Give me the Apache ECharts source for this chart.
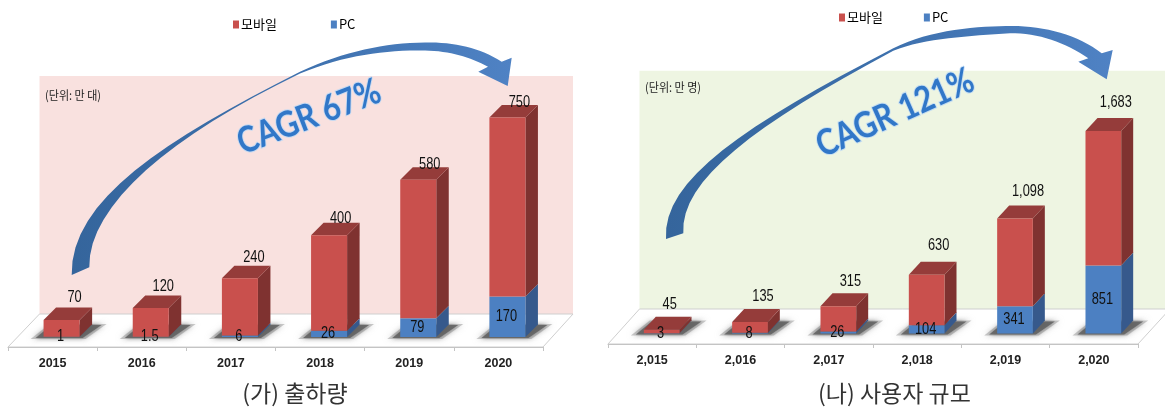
<!DOCTYPE html>
<html><head><meta charset="utf-8">
<style>html,body{margin:0;padding:0;background:#fff}#c{width:1165px;height:407px}</style>
<script src="https://cdn.jsdelivr.net/npm/echarts@6/dist/echarts.min.js"></script>
</head><body><div id="c"></div>
<script>
// ---------- data ----------
const catsA = ['2015','2016','2017','2018','2019','2020'];
const mobileA = [70,120,240,400,580,750];
const pcA = [1,1.5,6,26,79,170];
const catsB = ['2,015','2,016','2,017','2,018','2,019','2,020'];
const mobileB = [45,135,315,630,1098,1683];
const pcB = [3,8,26,104,341,851];
const seriesNames = ['모바일','PC'];
const titleA = '(가) 출하량', titleB = '(나) 사용자 규모';
const unitA = '(단위: 만 대)', unitB = '(단위: 만 명)';
const cagrA = 'CAGR 67%', cagrB = 'CAGR 121%';

// ---------- style ----------
const LAT = '"Liberation Sans",sans-serif';
const KR = '"Noto Sans CJK KR",sans-serif';
const RED = {front:'#C9504D', side:'#7F3230', top:'#953C3A'};
const BLUE = {front:'#4C80C2', side:'#36598C', top:'#4C80C2'};
const chartA = {dx:9,  dy:10,   depthX:12.5, depthY:12.5, labelDx:[13,12.5,14,11.5,11.5,12], labelDy:[-22,-21,-21,-17,-15,-14.5]};
const chartB = {dx:9.5,dy:10.5, depthX:12,   depthY:13,   labelDx:[8,13,12,12,13,12.5],      labelDy:[-25,-25.5,-25,-29,-27,-28]};

const fmt = v => String(v).replace(/\B(?=(\d{3})+(?!\d))/g, ',');

function makeRender(cfg, colors, isBase, isTop){
  return function(params, api){
    const i = api.value(0), lo = api.value(1), hi = api.value(2), val = api.value(3);
    const a = api.coord([i, lo]), b = api.coord([i, hi]);
    const w = api.size([1,0])[0]*0.404;
    const x0 = a[0]+cfg.dx-w/2, x1 = x0+w, yB = a[1]-cfg.dy, yT = b[1]-cfg.dy;
    const dX = cfg.depthX, dY = cfg.depthY;
    const ch = [];
    if (isBase) {
      ch.push({type:'polygon', z2:1,
        shape:{points:[[x0-13,yB+2],[x1+6,yB+2],[x1+27,yB-13],[x0+6,yB-13]]},
        style:{fill:'rgba(150,150,150,0.5)', shadowBlur:6, shadowColor:'rgba(150,150,150,0.7)'}});
      ch.push({type:'polygon', z2:2,
        shape:{points:[[x0-8,yB+1],[x1+3,yB+1],[x1+22,yB-12],[x0+8,yB-12]]},
        style:{fill:'rgba(95,95,95,0.85)', shadowBlur:4, shadowColor:'rgba(95,95,95,0.8)'}});
    }
    ch.push({type:'polygon', z2:isBase?3:5, shape:{points:[[x1,yB],[x1+dX,yB-dY],[x1+dX,yT-dY],[x1,yT]]}, style:{fill:colors.side}});
    if (isTop) ch.push({type:'polygon', z2:5, shape:{points:[[x0,yT],[x1,yT],[x1+dX,yT-dY],[x0+dX,yT-dY]]}, style:{fill:colors.top}});
    ch.push({type:'rect', z2:isBase?3:5, shape:{x:x0,y:yT,width:w,height:yB-yT}, style:{fill:colors.front}});
    const lab = isTop
      ? {x:a[0]+cfg.dx+cfg.labelDx[i], y:b[1]-cfg.dy+cfg.labelDy[i]}
      : {x:a[0]+cfg.dx-1, y:(yB+yT)/2};
    ch.push({type:'text', z2:100, x:lab.x, y:lab.y, scaleX:0.8,
      style:{text:fmt(val), fill:'#111', font:'16px '+LAT, align:'center', verticalAlign:'middle'}});
    return {type:'group', children:ch};
  };
}
const rows = (lo, hi) => hi.map((v,i)=>[i, lo?lo[i]:0, (lo?lo[i]:0)+v, v]);

function seriesFor(idx, cfg, mobile, pc){
  return [
    {name:seriesNames[1], type:'custom', xAxisIndex:idx, yAxisIndex:idx, itemStyle:{color:BLUE.front},
     renderItem:makeRender(cfg,BLUE,true,false), encode:{x:0,y:[1,2]}, data:rows(null,pc), silent:true, clip:false},
    {name:seriesNames[0], type:'custom', xAxisIndex:idx, yAxisIndex:idx, itemStyle:{color:RED.front},
     renderItem:makeRender(cfg,RED,false,true), encode:{x:0,y:[1,2]}, data:rows(pc,mobile), silent:true, clip:false}
  ];
}
function xAxisFor(idx, cats){
  return {type:'category', gridIndex:idx, data:cats,
    axisLine:{show:true, lineStyle:{color:'#C4C4C4', width:1}},
    axisTick:{show:true, length:4, alignWithLabel:false, lineStyle:{color:'#C4C4C4'}},
    axisLabel:{color:'#222', fontFamily:LAT, fontSize:12.5, fontWeight:'bold', margin:10, interval:0},
    splitLine:{show:false}};
}
function yAxisFor(idx, max){ return {type:'value', gridIndex:idx, min:0, max, show:false, splitLine:{show:false}}; }

// ---------- annotations (swoosh arrows, backgrounds) ----------
// piecewise cubic curves: P0, c1, c2, P1, c1, c2, P2 ...
function bez(p, n){
  const out=[];
  for(let s=0;s+3<p.length;s+=3){
    for(let k=0;k<n;k++){
      const t=k/n,u=1-t;
      out.push([0,1].map(j=>u*u*u*p[s][j]+3*u*u*t*p[s+1][j]+3*u*t*t*p[s+2][j]+t*t*t*p[s+3][j]));
    }
  }
  out.push(p[p.length-1]);
  return out;
}
const outerA=[[71.7,275],[70,200],[165,140],[300,71.7],[345,51],[385,43],[425,42.5],[455,42],[480,48],[501.7,61.7]];
const innerA=[[89.3,267.3],[88,205],[172,135],[300,73.5],[345,55],[385,50],[425,50.5],[450,51],[470,57],[488,66.7]];
const headA=[[511.7,57.7],[507.7,86],[478.3,71.7]];
const outerB=[[666,239],[662,180],[745,125],[893.3,48.3],[930,29.3],[980,26],[1012,26],[1045,26],[1078,35],[1101.7,53.3]];
const innerB=[[683.3,233.3],[680,180],[755,125],[893.3,50.7],[925,38],[970,36],[1010,33.3],[1038,32.5],[1066,43],[1088.3,58.3]];
const headB=[[1112.7,50],[1106.7,79.3],[1078.3,61.7]];

const grad=(c)=>new echarts.graphic.LinearGradient(0,0,1,0,c);
function arrow(o,h,i){
  return {type:'polygon', z:5, silent:true,
    shape:{points:[...bez(o,16),...h,...bez(i,16).reverse()]},
    style:{fill:grad([{offset:0,color:'#35659C'},{offset:0.45,color:'#3C6FAB'},{offset:1,color:'#4F82C4'}])}};
}
function cagr(text,x,y,deg,size,sx){
  return {type:'text', z:6, silent:true, x, y, rotation:deg*Math.PI/180, scaleX:sx,
    style:{text, font:'bold '+size+'px Lato,"Open Sans",sans-serif', align:'center', verticalAlign:'middle',
      fill:'#3177C8', stroke:'rgba(185,215,245,0.8)', lineWidth:2}};
}
const unit=(text,x,y)=>({type:'text',z:6,silent:true,x,y,scaleX:0.92,style:{text,fill:'#222',font:'12px '+KR,align:'left',verticalAlign:'middle'}});
const bg=(pts,fill)=>({type:'polygon',z:-2,silent:true,shape:{points:pts},style:{fill}});
const floor=(pts)=>({type:'polygon',z:-1,silent:true,shape:{points:pts},style:{fill:'#fff',stroke:'#CFCFCF',lineWidth:1}});

const chart=echarts.init(document.getElementById('c'),null,{renderer:'canvas'});
chart.setOption({
  backgroundColor:'#fff', animation:false,
  grid:[
    {left:8,  width:535, top:108.4, height:238.6, containLabel:false},
    {left:608,width:530, top:104.3, height:239.7, containLabel:false}
  ],
  xAxis:[xAxisFor(0,catsA),xAxisFor(1,catsB)],
  yAxis:[yAxisFor(0,1000),yAxisFor(1,3000)],
  legend:[
    {left:228,top:13,data:seriesNames,icon:'rect',itemWidth:6,itemHeight:8,itemGap:54,selectedMode:false,
     textStyle:{fontFamily:KR,fontSize:13,color:'#000',padding:[0,0,0,-3]}},
    {left:834,top:6,data:seriesNames,icon:'rect',itemWidth:6,itemHeight:8,itemGap:41,selectedMode:false,
     textStyle:{fontFamily:KR,fontSize:13,color:'#000',padding:[0,0,0,-3]}}
  ],
  title:[
    {text:titleA,left:290,top:377,textAlign:'center',textStyle:{fontFamily:KR,fontSize:23,fontWeight:'normal',color:'#333'}},
    {text:titleB,left:889.5,top:377,textAlign:'center',textStyle:{fontFamily:KR,fontSize:23,fontWeight:'normal',color:'#333'}}
  ],
  graphic:{elements:[
    bg([[39.5,76],[573,76],[573,314],[39.5,314]],'#F9E1DF'),
    floor([[39.5,314],[573,314],[543,347],[8,347]]),
    bg([[639.5,70.7],[1165,70.7],[1165,309],[639.5,309]],'#EEF5E2'),
    floor([[639.5,309],[1170,309],[1138,344],[608,344]]),
    arrow(outerA,headA,innerA), arrow(outerB,headB,innerB),
    cagr(cagrA,309,117,21,36,0.85), cagr(cagrB,895,113,24,36,0.85),
    unit(unitA,45,95), unit(unitB,645,87)
  ]},
  series:[...seriesFor(0,chartA,mobileA,pcA),...seriesFor(1,chartB,mobileB,pcB)]
});
</script></body></html>
